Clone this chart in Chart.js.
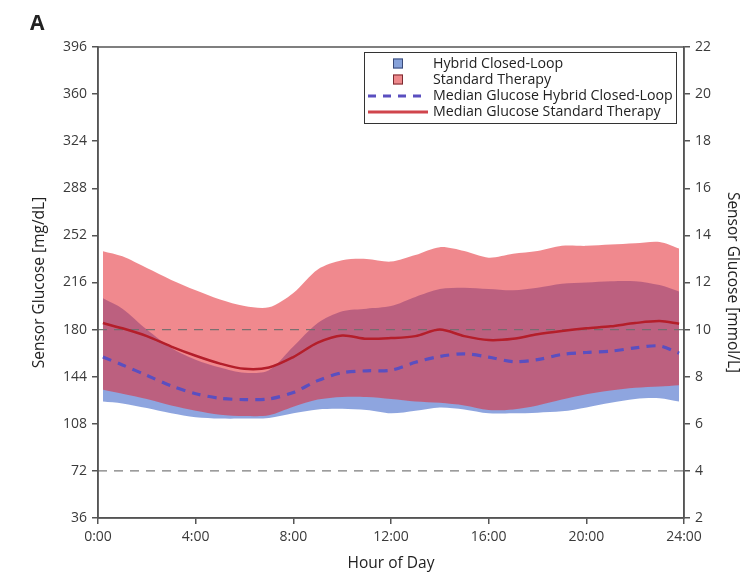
<!DOCTYPE html>
<html>
<head>
<meta charset="utf-8">
<script src="https://cdn.jsdelivr.net/npm/chart.js@4/dist/chart.umd.min.js"></script>
<style>
  html, body { margin: 0; padding: 0; background: #fff; }
  #wrap { width: 756px; height: 575px; }
</style>
</head>
<body>
<div id="wrap"><canvas id="chart" width="756" height="575"></canvas></div>
<script>
// hour of day for each sample
const hours = [0.2, 1, 2, 3, 4, 5, 6, 7, 8, 9, 10, 11, 12, 13, 14, 15, 16, 17, 18, 19, 20, 21, 22, 23, 23.8];

// Hybrid closed-loop IQR band + median (mg/dL)
const hybridUpper = [204, 196, 180, 166, 157, 151, 147, 149, 167, 185, 194, 196, 198, 205, 211, 212, 211, 210, 212, 215, 216, 217, 217, 214, 209];
const hybridLower = [125, 123.5, 120, 116, 113, 112, 112, 112.5, 116, 119, 119.5, 118.5, 116, 118, 120.5, 119, 116, 116, 116.5, 117.5, 120.5, 124, 127, 127.5, 125];
const hybridMedian = [159, 153, 145, 137, 131, 127.5, 126.5, 127, 132, 141, 147, 148.5, 149, 155, 159.5, 161.5, 159, 155.5, 157, 161, 162.5, 163.5, 166, 167.5, 162];

// Standard therapy IQR band + median (mg/dL)
const standardUpper = [240, 236, 227, 218, 210, 203, 198, 197, 208, 226, 233, 234, 232, 237, 243, 240, 235, 238, 240, 244, 244, 245, 246, 247, 242];
const standardLower = [134, 131, 127, 122, 118, 115, 114, 114.5, 121, 126.5, 128.5, 128.5, 127, 125, 124, 122, 118.5, 119, 122, 126.5, 130.5, 133.5, 135.5, 136.5, 137.5];
const standardMedian = [185, 181, 175, 167, 160, 154, 150, 151, 159, 170, 175.5, 173, 173.5, 175, 180, 175, 172, 173, 176.5, 179, 181, 182.5, 185, 186.5, 184.5];

// target range reference lines (mg/dL)
const refLines = [180, 72];
const refHours = [0, 24];

const legendItems = ['Hybrid Closed-Loop', 'Standard Therapy', 'Median Glucose Hybrid Closed-Loop', 'Median Glucose Standard Therapy'];

const FONT = 'Open Sans';
const BLUE_FILL = 'rgba(60,100,200,0.58)';
const RED_FILL = 'rgba(228,40,50,0.55)';
const RED_LINE = '#b41e2a';
const BLUE_LINE = '#5a4fc0';
const TICK_COLOR = '#3a3a3a';

function pts(ys, xs) {
    return ys.map((y, i) => ({ x: (xs || hours)[i], y: y }));
}

// frame around the plot area + panel letter
const framePlugin = {
    id: 'frame',
    afterDraw(chart) {
        const ctx = chart.ctx, a = chart.chartArea;
        ctx.save();
        ctx.strokeStyle = '#555';
        ctx.lineWidth = 1.5;
        ctx.strokeRect(a.left, a.top, a.right - a.left, a.bottom - a.top);
        ctx.fillStyle = '#222';
        ctx.font = 'bold 21px ' + FONT;
        ctx.textBaseline = 'alphabetic';
        ctx.fillText('A', 30, 30);
        ctx.restore();
    }
};

// legend box in the upper right of the plot
const legendPlugin = {
    id: 'boxLegend',
    afterDraw(chart) {
        const ctx = chart.ctx;
        const x0 = 364, y0 = 52, w = 312, h = 71;
        ctx.save();
        ctx.fillStyle = '#fff';
        ctx.fillRect(x0, y0, w, h);
        ctx.strokeStyle = '#333';
        ctx.lineWidth = 1;
        ctx.strokeRect(x0 + 0.5, y0 + 0.5, w, h);
        const rows = [63.5, 79.5, 96, 112];
        ctx.font = '14.2px ' + FONT;
        ctx.textBaseline = 'middle';
        ctx.fillStyle = '#222';
        legendItems.forEach((t, i) => ctx.fillText(t, 433, rows[i]));
        // squares
        [['rgba(135,162,218,1)', '#3a4a78'], ['rgba(238,137,140,1)', '#7a2a30']].forEach((c, i) => {
            ctx.fillStyle = c[0];
            ctx.strokeStyle = c[1];
            ctx.fillRect(393, rows[i] - 5, 10, 10);
            ctx.strokeRect(393.5, rows[i] - 4.5, 9, 9);
        });
        ctx.lineWidth = 3;
        ctx.strokeStyle = BLUE_LINE;
        ctx.setLineDash([8, 7]);
        ctx.beginPath(); ctx.moveTo(368, rows[2]); ctx.lineTo(428, rows[2]); ctx.stroke();
        ctx.setLineDash([]);
        ctx.strokeStyle = '#d0454c';
        ctx.beginPath(); ctx.moveTo(368, rows[3]); ctx.lineTo(428, rows[3]); ctx.stroke();
        ctx.restore();
    }
};

const band = (data, fill, color, order) => ({
    data: pts(data), fill: fill, backgroundColor: color, borderWidth: 0,
    pointRadius: 0, tension: 0.3, order: order
});

const tickFont = { family: FONT, size: 14 };
const titleFont = { family: FONT, size: 15.5 };

new Chart(document.getElementById('chart'), {
    type: 'line',
    data: {
        datasets: [
            band(hybridUpper, '+1', BLUE_FILL, 6),
            band(hybridLower, false, 'transparent', 6),
            band(standardUpper, '+1', RED_FILL, 5),
            band(standardLower, false, 'transparent', 5),
            { data: pts([refLines[0], refLines[0]], refHours), borderColor: 'rgba(110,110,110,0.9)', borderWidth: 1.3,
              borderDash: [9, 7], pointRadius: 0, fill: false, order: 3 },
            { data: pts([refLines[1], refLines[1]], refHours), borderColor: 'rgba(110,110,110,0.9)', borderWidth: 1.3,
              borderDash: [9, 7], pointRadius: 0, fill: false, order: 3 },
            { data: pts(standardMedian), borderColor: RED_LINE, borderWidth: 2.5, pointRadius: 0,
              fill: false, tension: 0.3, order: 2 },
            { data: pts(hybridMedian), borderColor: BLUE_LINE, borderWidth: 3.2, borderDash: [9, 7],
              pointRadius: 0, fill: false, tension: 0.3, order: 1 }
        ]
    },
    options: {
        responsive: false,
        animation: false,
        layout: { padding: { top: 47, left: 0, right: 0, bottom: 0 } },
        plugins: { legend: { display: false }, tooltip: { enabled: false } },
        scales: {
            x: {
                type: 'linear', min: 0, max: 24,
                afterFit: s => { s.height = 57; },
                ticks: { stepSize: 4, callback: v => v + ':00', color: TICK_COLOR, font: tickFont, padding: 5, maxRotation: 0 },
                grid: { drawOnChartArea: false, tickLength: 6, color: '#555', lineWidth: 1.5 },
                border: { color: '#555', width: 1.5 },
                title: { display: true, text: 'Hour of Day', color: '#222', font: titleFont, padding: { top: 0, bottom: 2 } }
            },
            y: {
                position: 'left', min: 36, max: 396,
                afterFit: s => { s.width = 98; },
                afterBuildTicks: s => { s.ticks = []; for (let v = 36; v <= 396; v += 36) s.ticks.push({ value: v }); },
                ticks: { color: TICK_COLOR, font: tickFont, padding: 5 },
                grid: { drawOnChartArea: false, tickLength: 6, color: '#555', lineWidth: 1.5 },
                border: { color: '#555', width: 1.5 },
                title: { display: true, text: 'Sensor Glucose [mg/dL]', color: '#222', font: titleFont, padding: { top: 30.5, bottom: 0 } }
            },
            y2: {
                position: 'right', min: 2, max: 22,
                afterFit: s => { s.width = 72; },
                ticks: { stepSize: 2, color: TICK_COLOR, font: tickFont, padding: 5 },
                grid: { drawOnChartArea: false, tickLength: 6, color: '#555', lineWidth: 1.5 },
                border: { color: '#555', width: 1.5 },
                title: { display: true, text: 'Sensor Glucose [mmol/L]', color: '#222', font: titleFont, padding: { top: 14.5, bottom: 0 } }
            }
        }
    },
    plugins: [framePlugin, legendPlugin]
});
</script>
</body>
</html>
